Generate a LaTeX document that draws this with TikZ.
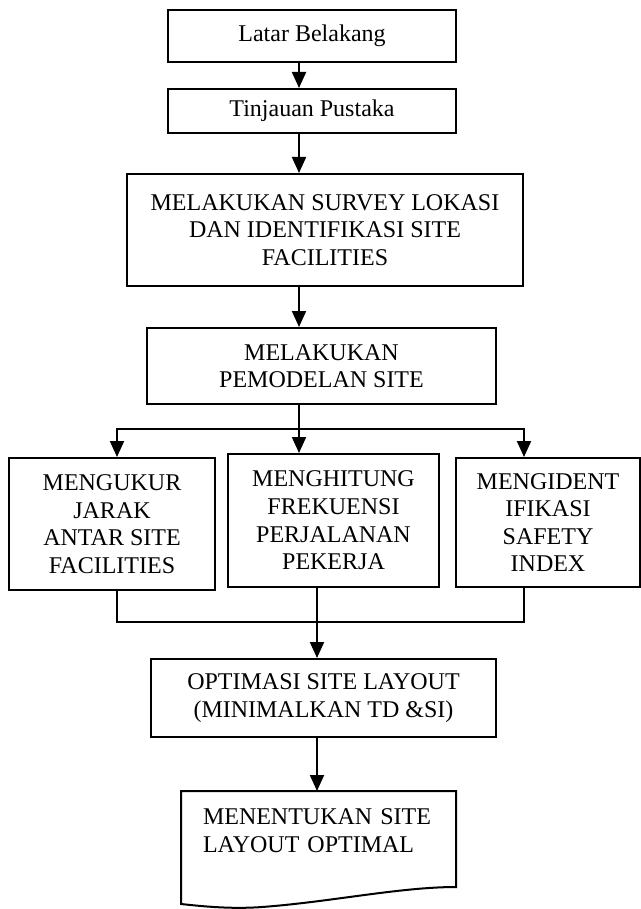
\documentclass[tikz,border=0pt]{standalone}
\usepackage{fontspec}
\setmainfont{Liberation Serif}
\usetikzlibrary{arrows.meta}

\begin{document}
\begin{tikzpicture}[x=0.5pt,y=-0.5pt,
	kotak/.style={draw,rectangle,line width=1pt,inner sep=0pt,align=center,font=\fontsize{12pt}{13.8pt}\selectfont},
	garis/.style={line width=1pt},
	panah/.style={line width=1pt,-{Triangle[length=8pt,width=7pt]}},
	panahdua/.style={line width=1pt,{Triangle[length=8pt,width=7pt]}-{Triangle[length=8pt,width=7pt]}}]
	\useasboundingbox (0,0) rectangle (641,909);
	\node[kotak,minimum width=144pt,minimum height=26pt] (latar) at (312,36) {Latar Belakang};
	\node[kotak,minimum width=144pt,minimum height=22pt] (tinjauan) at (312,111) {Tinjauan Pustaka};
	\node[kotak,minimum width=198pt,minimum height=56pt] (survey) at (325,230) {MELAKUKAN SURVEY LOKASI\\DAN IDENTIFIKASI SITE\\FACILITIES};
	\node[kotak,minimum width=174.5pt,minimum height=38pt] (model) at (321.5,366) {MELAKUKAN\\PEMODELAN SITE};
	\node[kotak,minimum width=103pt,minimum height=66pt] (ukur) at (112,524) {MENGUKUR\\JARAK\\ANTAR SITE\\FACILITIES};
	\node[kotak,minimum width=105.5pt,minimum height=66.5pt] (hitung) at (333.5,520.5) {MENGHITUNG\\FREKUENSI\\PERJALANAN\\PEKERJA};
	\node[kotak,minimum width=92pt,minimum height=64.5pt] (ident) at (548,522.5) {MENGIDENT\\IFIKASI\\SAFETY\\INDEX};
	\node[kotak,minimum width=172.5pt,minimum height=39pt] (optim) at (323.5,698) {OPTIMASI SITE LAYOUT\\(MINIMALKAN TD \&SI)};
	\node[kotak,draw=none,align=left,anchor=north west,text width=116.5pt,inner xsep=10.5pt,inner ysep=8.5pt] (hasil) at (181,791) {MENENTUKAN SITE\\LAYOUT OPTIMAL};
	% bentuk dokumen
	\draw[garis] (181,791) -- (456,791) -- (456,887) .. controls (400,887) and (330,902) .. (262,907) .. controls (230,909.4) and (200,906) .. (181,904) -- cycle;
	\coordinate (poros) at (299,0);
	\coordinate (kolA) at (117,0);
	\coordinate (kolB) at (317,0);
	\coordinate (kolC) at (524,0);
	\coordinate (cabang) at (0,429);
	\coordinate (gabung) at (0,622);
	\draw[panah] (latar.south -| poros) -- (tinjauan.north -| poros);
	\draw[panah] (tinjauan.south -| poros) -- (survey.north -| poros);
	\draw[panah] (survey.south -| poros) -- (model.north -| poros);
	\draw[panah] (model.south -| poros) -- (hitung.north -| poros);
	\draw[panahdua] (ukur.north -| kolA) -- (kolA |- cabang) -- (kolC |- cabang) -- (ident.north -| kolC);
	\draw[garis] (ukur.south -| kolA) -- (kolA |- gabung) -- (kolC |- gabung) -- (ident.south -| kolC);
	\draw[panah] (hitung.south -| kolB) -- (optim.north -| kolB);
	\draw[panah] (optim.south -| kolB) -- (hasil.north -| kolB);
\end{tikzpicture}
\end{document}
